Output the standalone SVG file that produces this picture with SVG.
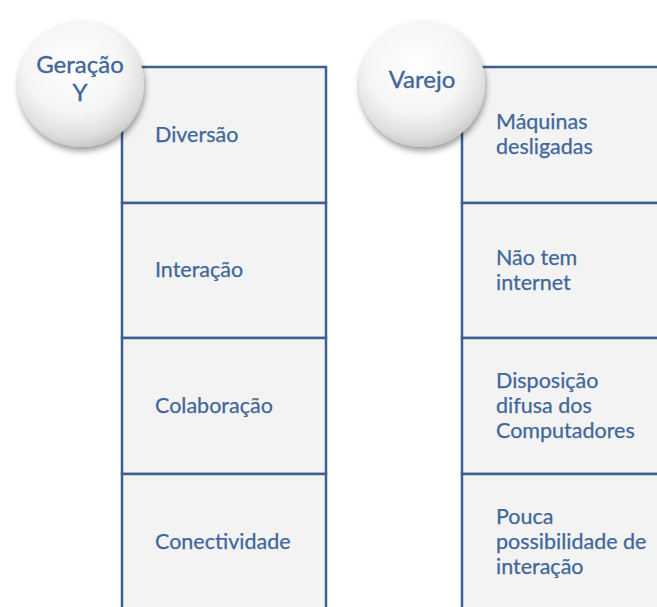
<svg xmlns="http://www.w3.org/2000/svg" width="657" height="607" viewBox="0 0 657 607">
  <defs>
    <radialGradient id="ball" cx="0.45" cy="0.35" r="0.65">
      <stop offset="0" stop-color="#ffffff"/>
      <stop offset="0.6" stop-color="#f5f5f5"/>
      <stop offset="0.88" stop-color="#dedede"/>
      <stop offset="1" stop-color="#c9c9c9"/>
    </radialGradient>
    <filter id="shadow" x="-30%" y="-30%" width="160%" height="160%">
      <feGaussianBlur in="SourceAlpha" stdDeviation="3"/>
      <feOffset dx="1" dy="4" result="b"/>
      <feComponentTransfer><feFuncA type="linear" slope="0.4"/></feComponentTransfer>
      <feMerge><feMergeNode/><feMergeNode in="SourceGraphic"/></feMerge>
    </filter>
  </defs>
  <style>
    .box { fill: #f3f3f3; stroke: #3d6094; stroke-width: 2.5; }
    .t { font-family: Lato, "Open Sans", "Liberation Sans", sans-serif; font-size: 21.5px; fill: #41669b; stroke: #41669b; stroke-width: 0.25; }
    .ct { font-size: 24px; stroke-width: 0.35; }
    .c { text-anchor: middle; }
    .ball { fill: url(#ball); filter: url(#shadow); }
  </style>
  <rect width="657" height="607" fill="#ffffff"/>

  <g id="geracao-list">
    <g id="diversao"><rect class="box" x="122" y="67" width="204" height="136"/><text class="t" x="155" y="142">Diversão</text></g>
    <g id="interacao"><rect class="box" x="122" y="203" width="204" height="135"/><text class="t" x="155" y="277">Interação</text></g>
    <g id="colaboracao"><rect class="box" x="122" y="338" width="204" height="136"/><text class="t" x="155" y="413">Colaboração</text></g>
    <g id="conectividade"><rect class="box" x="122" y="474" width="204" height="140"/><text class="t" x="155" y="549">Conectividade</text></g>
  </g>

  <g id="varejo-list">
    <g id="maquinas"><rect class="box" x="462" y="67" width="205" height="136"/><text class="t" x="496" y="129">Máquinas</text><text class="t" x="496" y="154">desligadas</text></g>
    <g id="internet"><rect class="box" x="462" y="203" width="205" height="135"/><text class="t" x="496" y="265">Não tem</text><text class="t" x="496" y="290">internet</text></g>
    <g id="disposicao"><rect class="box" x="462" y="338" width="205" height="136"/><text class="t" x="496" y="388">Disposição</text><text class="t" x="496" y="413">difusa dos</text><text class="t" x="496" y="438">Computadores</text></g>
    <g id="pouca"><rect class="box" x="462" y="474" width="205" height="140"/><text class="t" x="496" y="524">Pouca</text><text class="t" x="496" y="549">possibilidade de</text><text class="t" x="496" y="574">interação</text></g>
  </g>

  <g id="geracao-y">
    <circle class="ball" cx="81" cy="84" r="63"/>
    <text class="t ct c" x="80" y="73">Geração</text>
    <text class="t ct c" x="80" y="101">Y</text>
  </g>
  <g id="varejo">
    <circle class="ball" cx="422" cy="84" r="63"/>
    <text class="t ct c" x="422" y="88">Varejo</text>
  </g>
  <g id="connectors"></g>
</svg>
